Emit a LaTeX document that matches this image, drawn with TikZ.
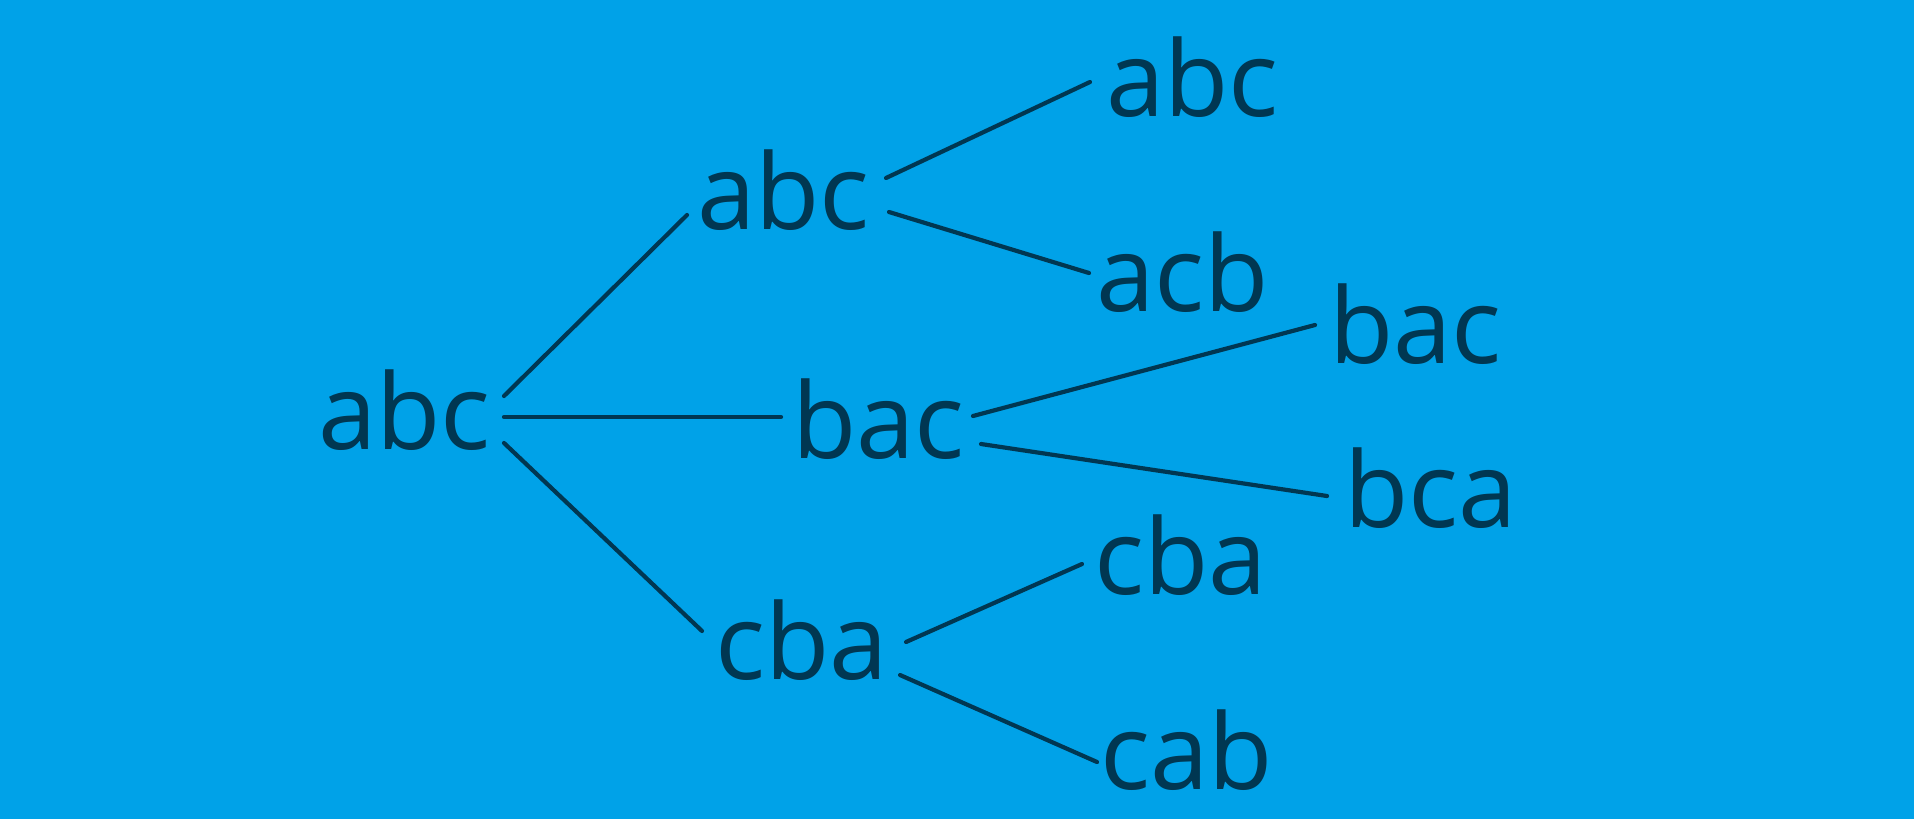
\documentclass[tikz,border=0pt]{standalone}
\usepackage{fontspec}
\setmainfont{Open Sans}
\usepackage{tikz}
\definecolor{bgblue}{RGB}{0,162,232}
\definecolor{inkblue}{RGB}{0,55,82}

\begin{document}
\begin{tikzpicture}[x=1pt,y=-1pt]
        \tikzstyle{perm}=[inner sep=0pt,anchor=base west,text=inkblue,font=\fontsize{105}{105}\selectfont]
        \tikzstyle{branch}=[draw=inkblue,line width=4.2pt,line cap=round]
        \fill[bgblue] (0,0) rectangle (1914,819);

        % root and first level
        \node[perm] (root) at (318,449) {abc};
        \node[perm] (abcA) at (697,229) {abc};
        \node[perm] (bacA) at (792,458) {bac};
        \node[perm] (cbaA) at (715,679) {cba};
        % leaves
        \node[perm] (abcB) at (1106,116) {abc};
        \node[perm] (acbB) at (1096,311) {acb};
        \node[perm] (bacB) at (1329,363) {bac};
        \node[perm] (bcaB) at (1344,527) {bca};
        \node[perm] (cbaB) at (1094,594) {cba};
        \node[perm] (cabB) at (1100,789) {cab};

        \draw[branch] ([shift={(186,-53)}]root.base west) -- ([shift={(-10,-14)}]abcA.base west);
        \draw[branch] ([shift={(186,-32)}]root.base west) -- ([shift={(-11,-41)}]bacA.base west);
        \draw[branch] ([shift={(186,-6)}]root.base west) -- ([shift={(-13,-48)}]cbaA.base west);
        \draw[branch] ([shift={(189,-51)}]abcA.base west) -- ([shift={(-16,-34)}]abcB.base west);
        \draw[branch] ([shift={(192,-17)}]abcA.base west) -- ([shift={(-7,-38)}]acbB.base west);
        \draw[branch] ([shift={(181,-42)}]bacA.base west) -- ([shift={(-14,-38)}]bacB.base west);
        \draw[branch] ([shift={(189,-14)}]bacA.base west) -- ([shift={(-17,-31)}]bcaB.base west);
        \draw[branch] ([shift={(191,-37)}]cbaA.base west) -- ([shift={(-12,-30)}]cbaB.base west);
        \draw[branch] ([shift={(185,-4)}]cbaA.base west) -- ([shift={(-3,-27)}]cabB.base west);
    \end{tikzpicture}
\end{document}
